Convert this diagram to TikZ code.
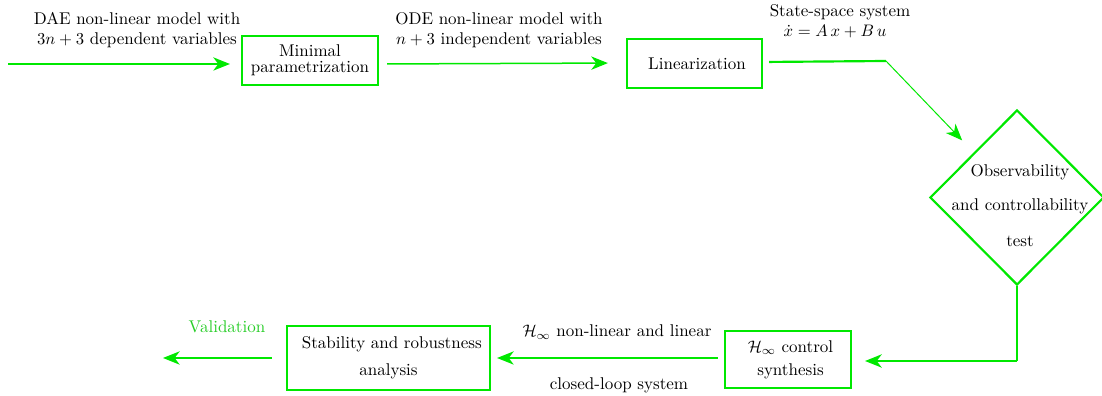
\documentclass[tikz,border=0pt]{standalone}
\usetikzlibrary{arrows.meta,shapes.geometric}
\definecolor{mygreen}{RGB}{0,232,0}
\definecolor{valgreen}{RGB}{40,205,40}
\begin{document}
\begin{tikzpicture}[x=0.6pt,y=-0.6pt,
  every node/.style={font=\fontsize{10.2}{12.3}\selectfont},
  box/.style={draw=mygreen,line width=1.3pt,rectangle,inner sep=0pt,align=center},
  conn/.style={draw=mygreen,line width=0.9pt},
  arr/.style={conn,-{Stealth[length=10pt,width=8pt,inset=3pt]}},
  lbl/.style={align=center,inner sep=0pt}]
\useasboundingbox (0,0) rectangle (1102,396);
% boxes
\node[box,minimum width=81.6pt,minimum height=29.4pt] (mp) at (310,60.5) {Minimal\\[-2.6pt]parametrization};
\node[box,minimum width=81pt,minimum height=29.4pt] (lin) at (694.5,63.5) {\hspace*{3pt}Linearization};
\node[draw=mygreen,line width=1.3pt,diamond,inner sep=0pt,minimum width=104.4pt,minimum height=105pt] (obs) at (1017,197.5) {};
\node[lbl] (obst) at (1020,206) {Observability\\[8pt]and controllability\\[9.3pt]test};
\node[box,minimum width=75.6pt,minimum height=34.2pt] (syn) at (788,359.5) {\hspace*{3pt}$\mathcal{H}_\infty$ control\\[1.5pt]\hspace*{3pt}synthesis};
\node[box,minimum width=121.8pt,minimum height=38.4pt] (stab) at (388.5,358) {\hspace*{4pt}Stability and robustness\\[3.6pt]analysis};
% free ends and bends
\coordinate (in) at (8,64);
\coordinate (bend) at (886,61);
\coordinate (corner) at (1017,361);
\coordinate (out) at (163,358);
% connectors
\draw[arr,shorten >=6.6pt] (in) -- (mp.west |- in);
\draw[arr,shorten <=4.8pt,shorten >=10.8pt] (mp.east |- 0,64) -- (lin.west |- 0,63);
\draw[conn,line width=1.3pt,shorten <=3.6pt] (lin.east |- 0,62) -- (bend);
\draw[arr,line width=0.6pt,shorten >=10pt] (bend) -- (obs);
\draw[conn,line width=1.1pt] (obs.south) -- (corner);
\draw[arr,line width=1.1pt,shorten >=7.8pt] (corner) -- (syn.east |- corner);
\draw[arr,shorten <=3.6pt,shorten >=3.6pt] (syn.west |- 0,358) -- (stab.east |- 0,358);
\draw[arr,shorten <=8.4pt] (stab.west |- out) -- (out);
% labels
\node[lbl] (l1) at (137,30) {DAE non-linear model with\\$3n+3$ dependent variables};
\node[lbl] (l2) at (499,30) {ODE non-linear model with\\$n+3$ independent variables};
\node[lbl] (l3) at (840,21) {State-space system\\$\dot{x}=A\,x+B\,u$\hspace*{6pt}};
\node[lbl] (l4) at (617,332) {$\mathcal{H}_\infty$ non-linear and linear};
\node[lbl] (l5) at (619,385) {closed-loop system};
\node[lbl,text=valgreen] (l6) at (227,327) {Validation};
\end{tikzpicture}
\end{document}
